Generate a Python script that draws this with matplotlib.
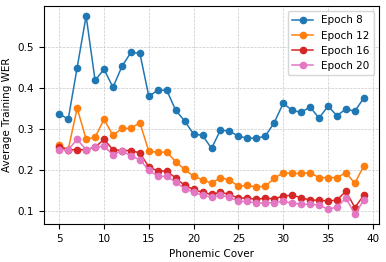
import matplotlib
matplotlib.use('Agg')
import matplotlib.pyplot as plt

# Phonemic cover values
cover = list(range(5, 40))

# average training WER per epoch
wer_epoch8 = [0.338, 0.324, 0.450, 0.576, 0.419, 0.446, 0.402, 0.453, 0.487, 0.485,
              0.380, 0.395, 0.395, 0.346, 0.320, 0.288, 0.285, 0.253, 0.298, 0.295,
              0.283, 0.278, 0.278, 0.283, 0.316, 0.363, 0.346, 0.341, 0.354, 0.327,
              0.356, 0.333, 0.349, 0.344, 0.376]
wer_epoch12 = [0.261, 0.250, 0.351, 0.276, 0.280, 0.324, 0.285, 0.302, 0.302, 0.316,
               0.246, 0.244, 0.244, 0.221, 0.202, 0.185, 0.177, 0.168, 0.182, 0.176,
               0.161, 0.163, 0.159, 0.161, 0.180, 0.194, 0.192, 0.192, 0.194, 0.182,
               0.182, 0.182, 0.194, 0.168, 0.211]
wer_epoch16 = [0.256, 0.250, 0.250, 0.250, 0.256, 0.275, 0.250, 0.248, 0.248, 0.242,
               0.208, 0.198, 0.198, 0.181, 0.163, 0.153, 0.146, 0.141, 0.146, 0.141,
               0.132, 0.132, 0.129, 0.132, 0.130, 0.137, 0.139, 0.133, 0.127, 0.127,
               0.125, 0.127, 0.149, 0.109, 0.139]
wer_epoch20 = [0.250, 0.250, 0.275, 0.250, 0.256, 0.259, 0.237, 0.248, 0.234, 0.226,
               0.200, 0.185, 0.185, 0.171, 0.155, 0.146, 0.139, 0.134, 0.139, 0.134,
               0.124, 0.124, 0.120, 0.120, 0.121, 0.124, 0.120, 0.117, 0.117, 0.115,
               0.105, 0.110, 0.132, 0.093, 0.127]

series = [
    ('Epoch 8', wer_epoch8, '#1f77b4'),
    ('Epoch 12', wer_epoch12, '#ff7f0e'),
    ('Epoch 16', wer_epoch16, '#d62728'),
    ('Epoch 20', wer_epoch20, '#e377c2'),
]

plt.rcParams['font.size'] = 7.5

fig = plt.figure(figsize=(3.86, 2.62), dpi=100)
ax = fig.add_axes([0.114, 0.145, 0.868, 0.832])

for label, vals, color in series:
    ax.plot(cover, vals, marker='o', linewidth=1.1, markersize=4.5,
            color=color, label=label)

ax.set_xlabel('Phonemic Cover')
ax.set_ylabel('Average Training WER')
ax.set_xticks([5, 10, 15, 20, 25, 30, 35, 40])
ax.set_yticks([0.1, 0.2, 0.3, 0.4, 0.5])
ax.grid(True, linestyle='--', linewidth=0.5, color='#c8c8c8')
ax.legend(loc='upper right')

plt.savefig('out.png', dpi=100)
plt.close()
